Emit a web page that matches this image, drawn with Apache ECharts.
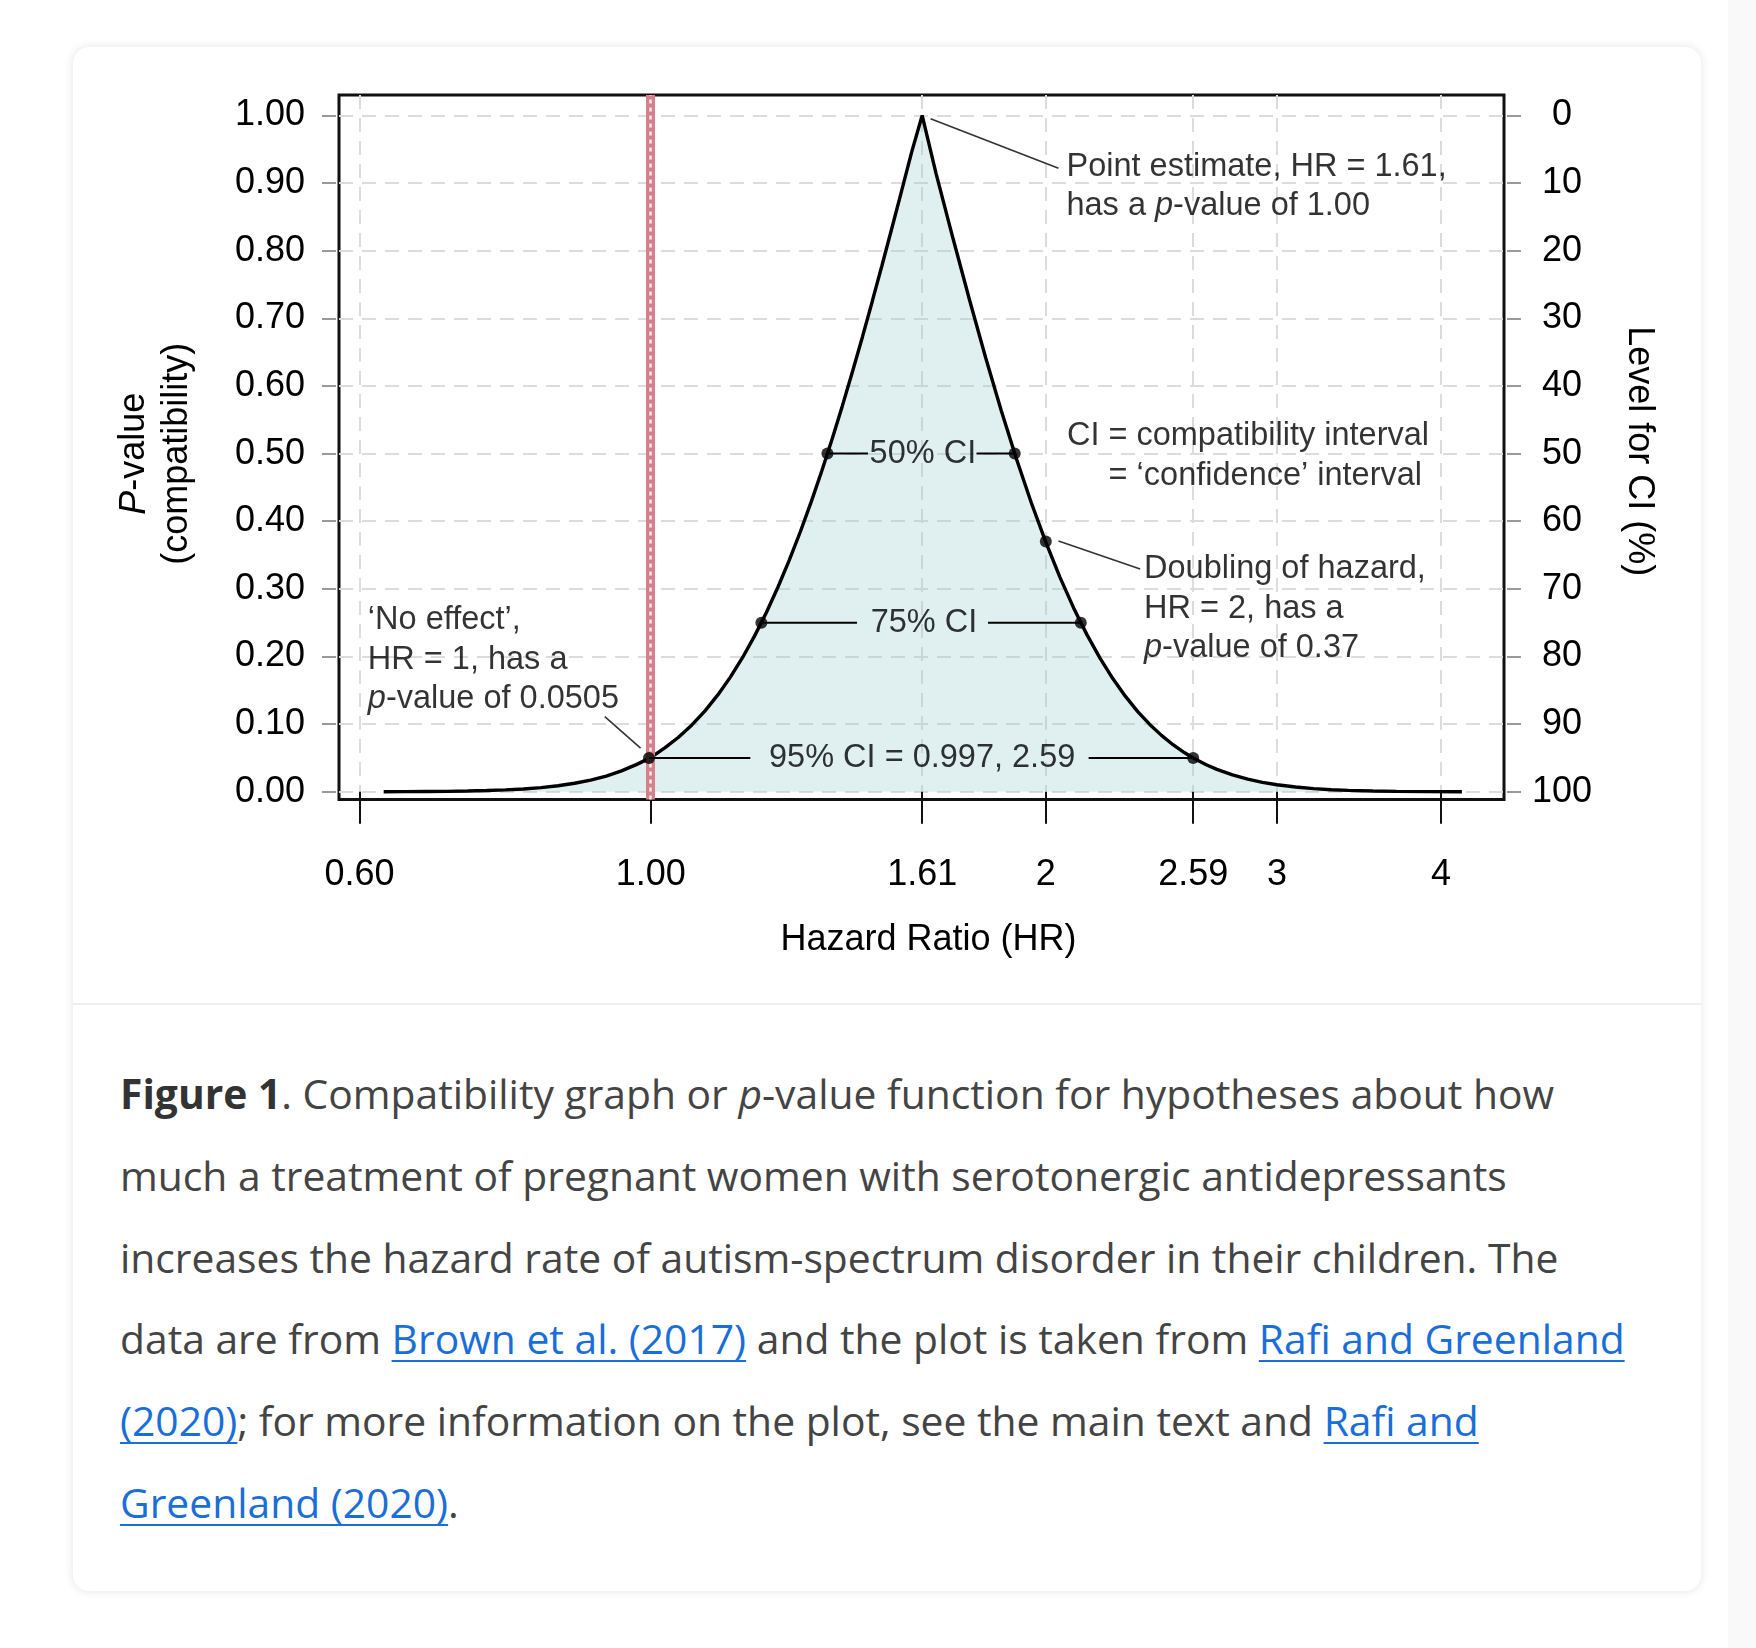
<!DOCTYPE html>
<html>
<head>
<meta charset="utf-8">
<script src="https://cdn.jsdelivr.net/npm/echarts@6/dist/echarts.min.js"></script>
<style>
html,body{margin:0;padding:0;background:#fff;width:1756px;height:1648px;overflow:hidden;}
#strip{position:absolute;left:1728px;top:0;width:28px;height:1648px;background:#f9f9f9;}
#card{position:absolute;left:73px;top:47px;width:1628px;height:1544px;border-radius:16px;background:#fff;box-shadow:0 0 9px 1px rgba(0,0,0,0.09);}
#divider{position:absolute;left:73px;top:1003px;width:1628px;height:2px;background:#efefef;}
#chart{position:absolute;left:0;top:0;width:1756px;height:1000px;}
#caption{position:absolute;left:120px;top:1053px;font-family:'Open Sans',sans-serif;font-size:40.8px;line-height:81.8px;color:#444;white-space:nowrap;}
#caption b{color:#333;font-weight:700;}
#caption a{color:#1a6ed8;text-decoration:underline;text-decoration-thickness:2px;text-underline-offset:6px;}
</style>
</head>
<body>
<div id="strip"></div>
<div id="card"></div>
<div id="divider"></div>
<div id="chart"></div>
<div id="caption"><b>Figure 1</b>. Compatibility graph or <i>p</i>-value function for hypotheses about how<br>much a treatment of pregnant women with serotonergic antidepressants<br>increases the hazard rate of autism-spectrum disorder in their children. The<br>data are from <a href="#">Brown et al. (2017)</a> and the plot is taken from <a href="#">Rafi and Greenland<br>(2020)</a>; for more information on the plot, see the main text and <a href="#">Rafi and<br>Greenland (2020)</a>.</div>
<script>
// ---------------- data ----------------
const curveHR = [0.626, 0.65, 0.675, 0.7, 0.725, 0.75, 0.775, 0.8, 0.825, 0.85, 0.875, 0.9, 0.925, 0.95, 0.975,
  1.0, 1.025, 1.05, 1.075, 1.1, 1.125, 1.15, 1.175, 1.2, 1.225, 1.25, 1.275, 1.3, 1.325, 1.35, 1.375, 1.4, 1.425,
  1.45, 1.475, 1.5, 1.525, 1.55, 1.58, 1.61, 1.65, 1.7, 1.75, 1.8, 1.85, 1.9, 1.95, 2.0, 2.05, 2.1, 2.15, 2.2,
  2.25, 2.3, 2.35, 2.4, 2.45, 2.5, 2.55, 2.59, 2.65, 2.7, 2.775, 2.85, 2.925, 3.0, 3.1, 3.2, 3.3, 3.4, 3.55, 3.7, 3.9, 4.15];
const curveP = [0.0001, 0.0002, 0.0004, 0.0006, 0.0011, 0.0018, 0.0028, 0.0042, 0.0062, 0.0089, 0.0126, 0.0173, 0.0233, 0.0309, 0.0402,
  0.0505, 0.0648, 0.0806, 0.0988, 0.1196, 0.1432, 0.1695, 0.1986, 0.2305, 0.2651, 0.3024, 0.3421, 0.3841, 0.4282, 0.4743, 0.5221, 0.5713, 0.6217,
  0.6729, 0.7250, 0.7773, 0.8298, 0.8822, 0.9446, 1.00, 0.9136, 0.8172, 0.7263, 0.6414, 0.5631, 0.4916, 0.4270, 0.3690, 0.3174, 0.2719, 0.2320, 0.1972,
  0.1670, 0.1410, 0.1186, 0.0996, 0.0834, 0.0696, 0.0580, 0.05, 0.0400, 0.0331, 0.0249, 0.0186, 0.0139, 0.0104, 0.0070, 0.0047, 0.0031, 0.0021, 0.0011, 0.0006, 0.0003, 0.0001];

const xTickValues = [0.6, 1, 1.61, 2, 2.59, 3, 4];
const xTickLabels = ['0.60', '1.00', '1.61', '2', '2.59', '3', '4'];
const pTickValues = [0, 0.1, 0.2, 0.3, 0.4, 0.5, 0.6, 0.7, 0.8, 0.9, 1.0];
const pTickLabels = ['0.00', '0.10', '0.20', '0.30', '0.40', '0.50', '0.60', '0.70', '0.80', '0.90', '1.00'];
const levelTickValues = [0, 10, 20, 30, 40, 50, 60, 70, 80, 90, 100];

const nullHR = 1;

// compatibility intervals
const ciText  = ['50% CI', '75% CI', '95% CI = 0.997, 2.59'];
const ciP     = [0.5, 0.25, 0.05];
const ciLow   = [1.3635, 1.2143, 0.997];
const ciHigh  = [1.8938, 2.1266, 2.59];
const ciGapLow  = [1.464, 1.436, 1.191];
const ciGapHigh = [1.771, 1.807, 2.156];
const ciTextHR  = [1.612, 1.615, 1.61];

// highlighted point: doubling of hazard
const doubleHR = 2;
const doubleP = 0.37;

// annotations (text, anchor in data space)
const noteText = [
  'Point estimate, HR = 1.61,\nhas a {i|p}-value of 1.00',
  'CI = compatibility interval\n{n|= \u2018confidence\u2019 interval}',
  'Doubling of hazard,\nHR = 2, has a\n{i|p}-value of 0.37',
  '\u2018No effect\u2019,\nHR = 1, has a\n{i|p}-value of 0.0505'
];
const noteHR = [2.072, 3.921, 2.374, 0.6083];
const noteP  = [0.895, 0.4967, 0.2707, 0.1954];
const noteSide = ['right', 'left', 'right', 'right'];

// leader lines
const leaderHR = [[1.634, 2.045], [2.045, 2.360], [0.9226, 0.9824]];
const leaderP  = [[0.995, 0.922], [0.3708, 0.3294], [0.1112, 0.0647]];

// axis ranges
const xMin = 0.5788, xMax = 4.468;
const pMin = -0.0114, pMax = 1.0302;

// ---------------- chart ----------------
const FONT = "'Liberation Sans', Arial, Helvetica, sans-serif";
const FS_AXIS = 36;
const FS_NOTE = 32.5;
const INK = '#000';
const gridDash = { type: [14, 9], color: '#dcdcdc', width: 2 };

function pickLabel(values, labels) {
  return function (v) {
    for (let i = 0; i < values.length; i++) {
      if (Math.abs(values[i] - v) <= 1e-4 * Math.max(1, Math.abs(values[i]))) return labels[i];
    }
    return '';
  };
}

const series = [];

series.push({
  name: 'p-value function',
  type: 'line',
  data: curveHR.map((h, i) => [h, curveP[i]]),
  showSymbol: false,
  smooth: false,
  lineStyle: { color: INK, width: 3.4 },
  areaStyle: { color: 'rgba(150,205,205,0.42)', origin: 0 },
  z: 2,
  markLine: {
    silent: true,
    symbol: 'none',
    label: { show: false },
    z: 3,
    data: [
      { xAxis: nullHR, lineStyle: { color: '#d8808a', width: 9, type: 'solid', opacity: 1 } },
      { xAxis: nullHR, lineStyle: { color: '#ffffff', width: 2.5, type: [4, 4], opacity: 0.85 } }
    ]
  }
});

ciText.forEach((t, i) => {
  series.push({
    type: 'line', data: [[ciLow[i], ciP[i]], [ciGapLow[i], ciP[i]]],
    showSymbol: false, lineStyle: { color: INK, width: 2 }, z: 4, silent: true
  });
  series.push({
    type: 'line', data: [[ciGapHigh[i], ciP[i]], [ciHigh[i], ciP[i]]],
    showSymbol: false, lineStyle: { color: INK, width: 2 }, z: 4, silent: true
  });
});

leaderHR.forEach((xs, i) => {
  series.push({
    type: 'line', data: [[xs[0], leaderP[i][0]], [xs[1], leaderP[i][1]]],
    showSymbol: false, lineStyle: { color: '#333', width: 1.6 }, z: 4, silent: true
  });
});

const dots = [];
ciText.forEach((t, i) => { dots.push([ciLow[i], ciP[i]]); dots.push([ciHigh[i], ciP[i]]); });
dots.push([doubleHR, doubleP]);
series.push({
  type: 'scatter', data: dots, symbol: 'circle', symbolSize: 12,
  itemStyle: { color: '#000' }, z: 10, silent: true
});

const noteRich = {
  i: { fontStyle: 'italic', fontFamily: FONT, fontSize: FS_NOTE, color: INK, lineHeight: 39.5 },
  n: { fontFamily: FONT, fontSize: FS_NOTE, color: INK, lineHeight: 39.5, padding: [0, 7, 0, 0] }
};

const labelItems = [];
ciText.forEach((t, i) => {
  labelItems.push({
    value: [ciTextHR[i], ciP[i]],
    label: { show: true, position: 'inside', formatter: t }
  });
});
noteText.forEach((t, i) => {
  labelItems.push({
    value: [noteHR[i], noteP[i]],
    label: { show: true, position: noteSide[i], distance: 0, formatter: t, align: noteSide[i] === 'right' ? 'left' : 'right' }
  });
});
series.push({
  type: 'scatter', data: labelItems, symbol: 'circle', symbolSize: 1,
  itemStyle: { color: 'rgba(0,0,0,0)' }, z: 12, silent: true,
  label: { show: true, fontFamily: FONT, fontSize: FS_NOTE, color: INK, lineHeight: 39.5, rich: noteRich }
});

const option = {
  backgroundColor: 'transparent',
  animation: false,
  grid: {
    left: 339, top: 95, width: 1165, height: 704.5,
    show: true, borderColor: '#111', borderWidth: 3, backgroundColor: 'transparent'
  },
  xAxis: {
    type: 'log', min: xMin, max: xMax,
    axisLine: { show: false },
    axisTick: { show: true, inside: false, length: 32, lineStyle: { color: '#111', width: 2 }, customValues: xTickValues },
    axisLabel: { customValues: xTickValues, margin: 58, fontFamily: FONT, fontSize: FS_AXIS, color: INK,
      formatter: pickLabel(xTickValues, xTickLabels) },
    splitLine: { show: true, lineStyle: gridDash },
    minorTick: { show: false },
    name: 'Hazard Ratio (HR)', nameLocation: 'middle', nameGap: 123,
    nameTextStyle: { fontFamily: FONT, fontSize: FS_AXIS, color: INK, padding: [0, 0, 0, 14] }
  },
  yAxis: [
    {
      type: 'value', position: 'left', min: pMin, max: pMax, offset: 3,
      axisLine: { show: false },
      axisTick: { show: true, length: 14, lineStyle: { color: '#9a9a9a', width: 2 }, customValues: pTickValues },
      axisLabel: { customValues: pTickValues, margin: 31, fontFamily: FONT, fontSize: FS_AXIS, color: INK,
        padding: [5, 0, 0, 0], formatter: pickLabel(pTickValues, pTickLabels) },
      splitLine: { show: true, lineStyle: gridDash },
      name: '{i|P}-value\n(compatibility)', nameLocation: 'middle', nameGap: 137, nameRotate: 90,
      nameTextStyle: { fontFamily: FONT, fontSize: FS_AXIS, color: INK, lineHeight: 43, padding: [0, 13, 0, 0],
        rich: { i: { fontStyle: 'italic', fontFamily: FONT, fontSize: FS_AXIS, color: INK, lineHeight: 43 } } }
    },
    {
      type: 'value', position: 'right', inverse: true, min: -3.02, max: 101.14, offset: 3,
      axisLine: { show: false },
      axisTick: { show: true, length: 14, lineStyle: { color: '#9a9a9a', width: 2 }, customValues: levelTickValues },
      axisLabel: { customValues: levelTickValues, margin: 55, align: 'center', fontFamily: FONT, fontSize: FS_AXIS, color: INK,
        padding: [6, 0, 0, 0] },
      splitLine: { show: false },
      name: 'Level for CI (%)', nameLocation: 'middle', nameGap: 113.5, nameRotate: -90,
      nameTextStyle: { fontFamily: FONT, fontSize: FS_AXIS, color: INK, padding: [0, 0, 0, 8] }
    }
  ],
  series: series
};

const chart = echarts.init(document.getElementById('chart'), null, { renderer: 'canvas' });
chart.setOption(option);
</script>
</body>
</html>
